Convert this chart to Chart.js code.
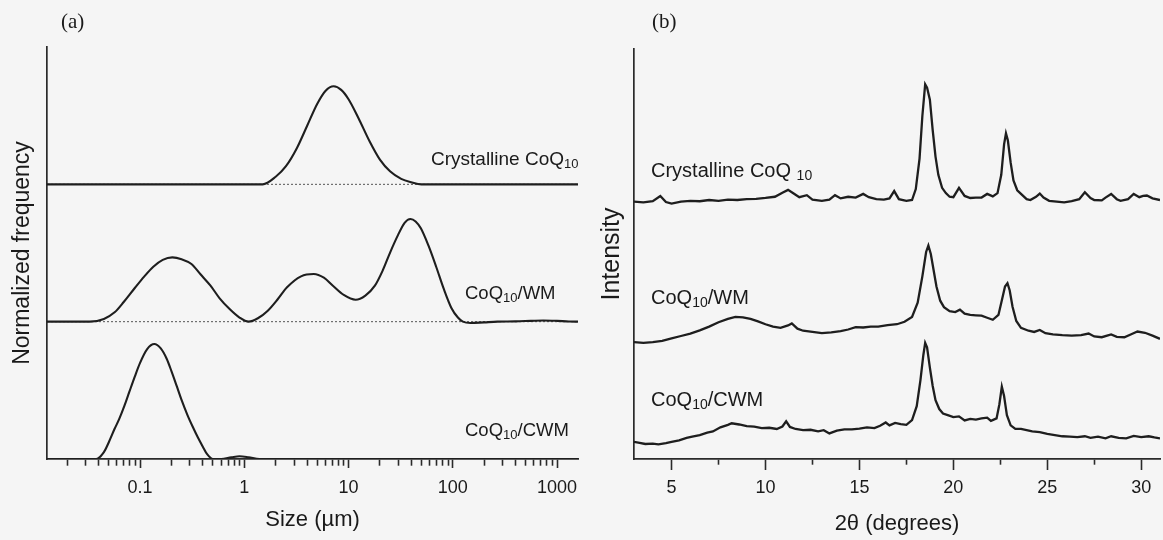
<!DOCTYPE html>
<html><head><meta charset="utf-8">
<script src="https://cdn.jsdelivr.net/npm/chart.js@4.4.1/dist/chart.umd.min.js"></script>
<style>
html,body{margin:0;padding:0;background:#f5f5f5;}
#wrap{position:relative;width:1163px;height:540px;overflow:hidden;background:#f5f5f5;font-family:"Liberation Sans",Arial,sans-serif;color:#1a1a1a;}
canvas{position:absolute;top:0;}
.lbl{position:absolute;white-space:nowrap;line-height:1;color:#1a1a1a;}
.lbl .s{position:relative;top:0.2em;}
.pl{position:absolute;font-family:"Liberation Serif","Times New Roman",serif;font-size:21px;line-height:1;color:#1a1a1a;}
</style></head>
<body>
<div id="wrap">
<canvas id="ca" width="590" height="540" style="left:0px"></canvas>
<canvas id="cb" width="573" height="540" style="left:590px"></canvas>
<div class="pl" style="left:61px;top:11px">(a)</div>
<div class="pl" style="left:652px;top:11px">(b)</div>
<div class="lbl" style="left:431px;top:149px;font-size:19px">Crystalline CoQ<span class="s" style="font-size:13px">10</span></div>
<div class="lbl" style="left:465px;top:284px;font-size:18.5px">CoQ<span class="s" style="font-size:13px">10</span>/WM</div>
<div class="lbl" style="left:465px;top:421px;font-size:18.5px">CoQ<span class="s" style="font-size:13px">10</span>/CWM</div>
<div class="lbl" style="left:651px;top:160px;font-size:20px">Crystalline CoQ <span class="s" style="font-size:14px">10</span></div>
<div class="lbl" style="left:651px;top:287px;font-size:20px">CoQ<span class="s" style="font-size:14px">10</span>/WM</div>
<div class="lbl" style="left:651px;top:389px;font-size:20px">CoQ<span class="s" style="font-size:14px">10</span>/CWM</div>
</div>
<script>
// ---------- Panel (a): particle size distributions ----------
const sizeMin = 0.0128, sizeMax = 1590;
const sizeTicks = [0.02,0.03,0.04,0.05,0.06,0.07,0.08,0.09,0.1,0.2,0.3,0.4,0.5,0.6,0.7,0.8,0.9,1,2,3,4,5,6,7,8,9,10,20,30,40,50,60,70,80,90,100,200,300,400,500,600,700,800,900,1000];
const sizeMajor = [0.1,1,10,100,1000];

const crystSize = [0.0128,1.5,2.0,2.5,3.2,4.0,5.0,6.0,7.2,8.5,10,12.5,16,20,25,32,40,50,1590];
const crystFreq = [0,0,0.055,0.13,0.265,0.425,0.585,0.68,0.714,0.688,0.62,0.48,0.31,0.18,0.095,0.04,0.015,0,0];

const wmSize = [0.0128,0.033,0.045,0.057,0.07,0.0875,0.11,0.134,0.165,0.204,0.25,0.311,0.38,0.474,0.58,0.723,0.9,1.1,1.35,1.68,2.1,2.57,3.5,4.64,5.8,7.08,9.0,11.7,14.5,17.9,21.2,25.1,29.8,34.5,39.3,44,49.4,58.5,69.3,82,97,112,125,148,200,268,400,560,738,1000,1300,1590];
const wmFreq = [0,0,0.02,0.068,0.145,0.238,0.33,0.40,0.45,0.468,0.455,0.42,0.345,0.262,0.17,0.092,0.03,0.0,0.025,0.08,0.165,0.25,0.33,0.347,0.32,0.262,0.195,0.16,0.19,0.262,0.37,0.505,0.63,0.72,0.748,0.73,0.68,0.553,0.40,0.238,0.10,0.03,0,-0.01,-0.005,0,0.002,0.006,0.009,0.006,0.001,0];

const cwmSize = [0.0128,0.038,0.045,0.05,0.057,0.063,0.071,0.079,0.089,0.1,0.117,0.137,0.158,0.18,0.2,0.225,0.25,0.285,0.32,0.36,0.4,0.44,0.5,0.6,0.75,0.9,1.1,1.4,1590];
const cwmFreq = [0,0,0.05,0.12,0.22,0.29,0.39,0.49,0.6,0.7,0.80,0.837,0.805,0.73,0.64,0.53,0.43,0.32,0.235,0.155,0.09,0.035,0.0,0,0.012,0.02,0.013,0,0];

const sizeOffsets = {cryst: 2, wm: 1, cwm: 0};

// ---------- Panel (b): XRD patterns ----------
const thetaMin = 3, thetaMax = 31;
const thetaTicks = [5,7.5,10,12.5,15,17.5,20,22.5,25,27.5,30];
const thetaMajor = [5,10,15,20,25,30];

const crystTheta = [3.0,3.5,4.0,4.4,4.7,5.0,5.5,6.0,6.5,7.0,7.5,8.0,8.5,9.0,9.5,10.0,10.5,10.9,11.2,11.5,11.8,12.2,12.5,13.0,13.4,13.7,14.0,14.4,14.8,15.2,15.5,15.9,16.3,16.6,16.85,17.1,17.5,17.8,18.0,18.2,18.35,18.5,18.6,18.75,18.9,19.05,19.2,19.4,19.6,19.8,20.0,20.3,20.6,20.9,21.2,21.5,21.8,22.1,22.35,22.55,22.7,22.8,22.9,23.05,23.2,23.4,23.6,23.9,24.1,24.4,24.6,24.8,25.1,25.5,25.9,26.3,26.7,27.0,27.3,27.5,27.9,28.1,28.4,28.7,28.9,29.3,29.6,29.9,30.1,30.3,30.6,31.0];
const crystInt = [63.4,63.2,63.5,64.8,63.3,62.9,63.4,63.6,63.5,63.8,63.6,63.9,63.8,64.0,64.1,64.3,64.6,65.6,66.3,65.4,64.5,65.0,63.9,63.6,63.9,65.0,64.2,64.6,64.4,65.3,64.5,64.0,63.9,64.2,66.0,64.0,63.6,63.8,66.5,74,84.5,92.3,91.5,88.5,81,74.5,70.0,66.8,65.5,64.6,64.5,66.8,64.8,64.3,64.4,64.4,65.3,64.7,65.5,70.0,77.5,80.2,78.5,73.0,68.6,66.2,65.3,64.0,63.8,64.6,65.4,64.4,63.6,63.4,63.2,63.5,64.0,65.7,64.3,63.8,63.7,64.4,65.3,64.0,63.6,64.0,65.3,64.5,64.8,64.9,64.2,63.8];

const wmTheta = [3.0,3.5,4.0,4.5,5.0,5.5,6.0,6.5,7.0,7.5,8.0,8.4,8.8,9.2,9.6,10.0,10.4,10.8,11.2,11.4,11.7,12.0,12.5,13.0,13.5,14.0,14.4,14.8,15.2,15.6,16.0,16.5,17.0,17.4,17.8,18.1,18.35,18.55,18.67,18.8,18.95,19.1,19.3,19.5,19.8,20.1,20.35,20.6,20.9,21.2,21.5,21.8,22.1,22.4,22.6,22.75,22.88,23.0,23.15,23.35,23.6,24.0,24.3,24.6,24.9,25.3,25.8,26.3,26.8,27.2,27.5,27.9,28.4,28.7,29.1,29.5,29.8,30.2,30.6,31.0];
const wmInt = [28.8,28.6,28.8,29.1,29.7,30.3,30.9,31.7,32.6,33.7,34.5,35.0,34.9,34.5,33.9,33.2,32.6,32.3,32.9,33.4,32.1,31.6,31.3,31.0,31.2,31.5,31.9,32.5,32.4,32.6,32.6,33.0,33.2,33.8,35.0,38.5,45.0,51.0,52.6,50.5,46.5,42.5,39.0,37.4,36.4,36.2,36.8,35.8,35.5,35.4,35.3,34.8,34.3,35.5,39.5,42.5,43.3,41.5,37.5,34.0,32.3,31.6,31.3,31.8,31.0,30.7,30.5,30.4,30.5,30.9,30.2,30.0,30.7,30.1,30.0,30.8,31.4,31.1,30.4,29.6];

const cwmTheta = [3.0,3.3,3.6,4.0,4.3,4.7,5.0,5.4,5.8,6.1,6.5,6.9,7.2,7.6,8.0,8.2,8.6,9.0,9.4,9.8,10.2,10.6,10.9,11.1,11.3,11.6,12.0,12.4,12.8,13.1,13.4,13.8,14.2,14.6,15.0,15.4,15.8,16.1,16.4,16.6,16.9,17.2,17.5,17.8,18.05,18.25,18.4,18.5,18.6,18.75,18.9,19.05,19.25,19.45,19.7,20.0,20.3,20.6,20.9,21.2,21.5,21.8,22.0,22.3,22.45,22.58,22.7,22.85,23.05,23.3,23.6,23.9,24.2,24.6,25.0,25.4,25.8,26.2,26.6,27.0,27.3,27.7,28.1,28.4,28.8,29.2,29.6,30.0,30.4,30.7,31.0];
const cwmInt = [4.2,4.0,3.7,3.8,3.6,3.9,4.2,4.6,5.2,5.5,5.9,6.5,6.8,7.8,8.4,8.8,8.5,8.1,8.0,7.6,7.7,7.4,8.0,9.3,7.9,7.4,7.1,7.2,6.8,7.1,6.3,7.0,7.3,7.3,7.5,7.8,7.6,8.2,9.0,8.3,8.9,8.6,8.4,9.6,13.0,19.5,25.5,28.6,27.5,22.5,18.0,14.5,12.3,11.2,10.8,10.3,10.5,9.5,9.9,9.7,10.0,10.2,9.4,10.0,13.5,17.8,15.5,10.8,8.3,7.4,7.4,7.1,6.8,6.6,6.2,5.9,5.6,5.5,5.4,5.6,5.2,5.5,5.1,5.6,5.2,5.1,5.7,5.4,5.6,5.3,5.1];

// ---------- helpers ----------
const FAMILY = '"Liberation Sans", Arial, sans-serif';
const INK = '#1e1e1e';
const pts = (xs, ys, off) => xs.map((x, i) => ({x: x, y: ys[i] + (off || 0)}));
const curve = (data, extra) => Object.assign({data, borderColor: INK, borderWidth: 2.1, pointRadius: 0, fill: false, tension: 0}, extra || {});
const axisX = (cfg) => ({
  type: cfg.type, min: cfg.min, max: cfg.max,
  afterBuildTicks: s => { s.ticks = cfg.ticks.map(v => ({value: v, major: cfg.major.includes(v)})); },
  afterFit: s => { s.height = 81; },
  ticks: {autoSkip: false, maxRotation: 0, minRotation: 0, padding: cfg.pad, color: '#1a1a1a', font: {size: 18, family: FAMILY},
          callback: (v, i, t) => (t[i] && t[i].major) ? String(v) : ''},
  grid: {drawOnChartArea: false, drawTicks: true, tickLength: cfg.tl, tickColor: '#2a2a2a', tickWidth: 1.6,
         tickBorderDash: ctx => (ctx.tick && ctx.tick.major) ? [] : [cfg.minorLen, 40]},
  border: {display: true, color: '#2a2a2a', width: 1.7},
  title: {display: true, text: cfg.title, color: '#1a1a1a', font: {size: 22, family: FAMILY}, padding: {top: 0, bottom: cfg.tpad}}
});
const axisY = (cfg) => ({
  min: cfg.min, max: cfg.max,
  afterFit: s => { s.width = cfg.w; },
  ticks: {display: false},
  grid: {display: false},
  border: {display: true, color: '#2a2a2a', width: 1.7},
  title: {display: true, text: cfg.title, color: '#1a1a1a', font: {size: cfg.fs, family: FAMILY}, padding: {top: cfg.tpad, bottom: 0}}
});
const common = {responsive: false, animation: false, events: [], plugins: {legend: {display: false}, tooltip: {enabled: false}}};

new Chart(document.getElementById('ca'), {
  type: 'line',
  data: {datasets: [
    curve(pts(crystSize, crystFreq, sizeOffsets.cryst), {cubicInterpolationMode: 'monotone'}),
    curve(pts(wmSize, wmFreq, sizeOffsets.wm), {cubicInterpolationMode: 'monotone'}),
    curve(pts(cwmSize, cwmFreq, sizeOffsets.cwm), {cubicInterpolationMode: 'monotone'}),
    curve(pts([sizeMin, sizeMax], [0, 0], sizeOffsets.cryst), {borderWidth: 1, borderColor: '#555', borderDash: [2, 2]}),
    curve(pts([sizeMin, sizeMax], [0, 0], sizeOffsets.wm), {borderWidth: 1, borderColor: '#555', borderDash: [2, 2]})
  ]},
  options: Object.assign({}, common, {
    layout: {padding: {left: 0, right: 12, top: 47, bottom: 0}},
    scales: {
      x: axisX({type: 'logarithmic', min: sizeMin, max: sizeMax, ticks: sizeTicks, major: sizeMajor, tl: 9, minorLen: 6, pad: 9, title: 'Size (µm)', tpad: 7}),
      y: axisY({min: 0, max: 3, w: 47, title: 'Normalized frequency', tpad: 9, fs: 23})
    }
  })
});

new Chart(document.getElementById('cb'), {
  type: 'line',
  data: {datasets: [
    curve(pts(crystTheta, crystInt), {borderWidth: 2.3}),
    curve(pts(wmTheta, wmInt), {borderWidth: 2.3}),
    curve(pts(cwmTheta, cwmInt), {borderWidth: 2.3})
  ]},
  options: Object.assign({}, common, {
    layout: {padding: {left: 0, right: 3, top: 49, bottom: 0}},
    scales: {
      x: axisX({type: 'linear', min: thetaMin, max: thetaMax, ticks: thetaTicks, major: thetaMajor, tl: 11, minorLen: 5, pad: 7, title: '2θ (degrees)', tpad: 3}),
      y: axisY({min: 0, max: 101, w: 44, title: 'Intensity', tpad: 7, fs: 25})
    }
  })
});
</script>
</body></html>
